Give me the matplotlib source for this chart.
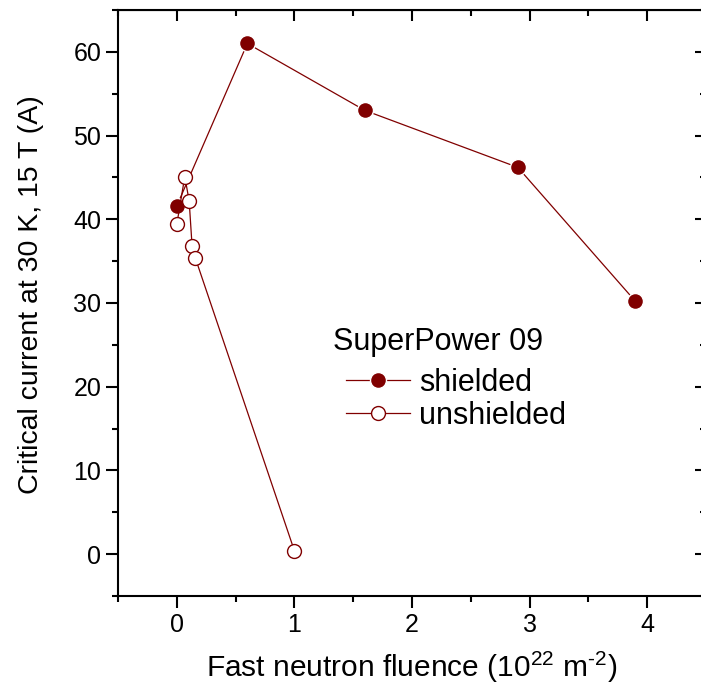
import matplotlib
matplotlib.use("Agg")
import matplotlib.pyplot as plt
from matplotlib.ticker import MultipleLocator

# data
shielded_x = [0.0, 0.6, 1.6, 2.9, 3.9]
shielded_y = [41.6, 61.0, 53.0, 46.2, 30.2]
unshielded_x = [0.0, 0.068, 0.105, 0.13, 0.157, 1.0]
unshielded_y = [39.4, 45.1, 42.2, 36.8, 35.4, 0.4]

color = '#800000'
plt.rcParams['font.family'] = ['Liberation Sans', 'DejaVu Sans']
plt.rcParams['mathtext.fontset'] = 'custom'
plt.rcParams['mathtext.rm'] = 'Liberation Sans'

fig = plt.figure(figsize=(7.01, 6.93), dpi=100)
ax = fig.add_axes([118/701, 1 - 596/693, (706 - 118)/701, (596 - 10)/693])

ax.plot(shielded_x, shielded_y, '-o', color=color, lw=0.9, ms=11.5,
        mfc=color, mec='white', mew=1.0, label='shielded', zorder=3)
ax.plot(unshielded_x, unshielded_y, '-o', color=color, lw=0.9, ms=10,
        mfc='white', mec=color, mew=1.0, label='unshielded', zorder=4)

ax.set_xlim(-0.5, 4.5)
ax.set_ylim(-5, 65)
ax.xaxis.set_major_locator(MultipleLocator(1))
ax.xaxis.set_minor_locator(MultipleLocator(0.5))
ax.yaxis.set_major_locator(MultipleLocator(10))
ax.yaxis.set_minor_locator(MultipleLocator(5))

for s in ax.spines.values():
    s.set_linewidth(1.5)
ax.tick_params(which='both', direction='out', width=1.5, labelsize=18,
               top=False, right=False)
ax.tick_params(which='major', length=8.5)
ax.tick_params(which='minor', length=4)

# inward ticks on top and right, no labels
ax_top = ax.secondary_xaxis('top')
ax_top.xaxis.set_major_locator(MultipleLocator(1))
ax_top.xaxis.set_minor_locator(MultipleLocator(0.5))
ax_top.tick_params(which='both', direction='in', width=1.5, labeltop=False)
ax_top.tick_params(which='major', length=8)
ax_top.tick_params(which='minor', length=4)
ax_right = ax.secondary_yaxis('right')
ax_right.yaxis.set_major_locator(MultipleLocator(10))
ax_right.yaxis.set_minor_locator(MultipleLocator(5))
ax_right.tick_params(which='both', direction='in', width=1.5, labelright=False)
ax_right.tick_params(which='major', length=8)
ax_right.tick_params(which='minor', length=4)

ax.set_xlabel('Fast neutron fluence (10$^{\\mathrm{22}}$ m$^{\\text{-}\\mathrm{2}}$)',
              fontsize=21.5, labelpad=9)
ax.set_ylabel('Critical current at 30 K, 15 T (A)', fontsize=20.5, labelpad=21)
ax.yaxis.label.set_y(0.515)

# legend title as plain text, legend rows below it
fig.text(333/701, 1 - 342/693, 'SuperPower 09', fontsize=22,
         ha='left', va='center')
leg = ax.legend(loc='upper left', bbox_to_anchor=(0.361, 0.415),
                frameon=False, fontsize=22, handlelength=2.1,
                handletextpad=0.3, labelspacing=0.1, borderpad=0)

fig.savefig('out.png', dpi=100)
